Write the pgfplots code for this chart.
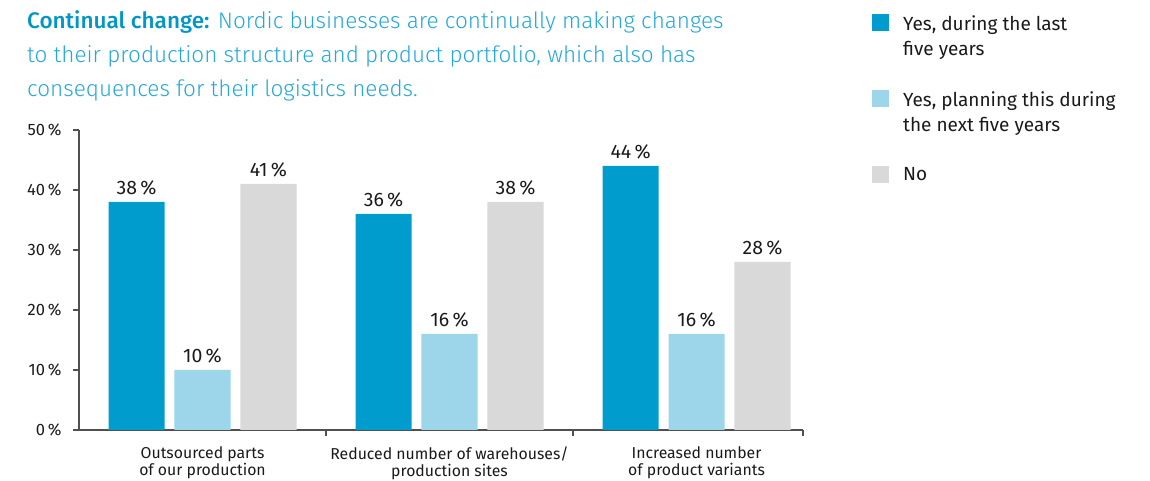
\documentclass[border=0pt]{standalone}
\usepackage{fontspec}
\setmainfont{Fira Sans}
\newfontfamily\lightfont{Fira Sans Light}
\newfontfamily\medfont{Fira Sans Medium}
\usepackage{pgfplots}
\pgfplotsset{compat=1.18}
\definecolor{darkblue}{RGB}{0,156,206}
\definecolor{lightblue}{RGB}{157,214,234}
\definecolor{lightgray}{RGB}{217,217,217}
\definecolor{titleblue}{RGB}{0,150,200}
\definecolor{titlelight}{RGB}{35,168,218}
\definecolor{txt}{RGB}{26,26,26}
\definecolor{axisgray}{RGB}{80,80,80}
% legend square raised to the first line of a two-line entry
\pgfplotsset{twoline/.style={legend image code/.code={\fill[##1] (0pt,5pt) rectangle (17pt,22pt);}}}

\begin{document}
\begin{tikzpicture}
\useasboundingbox (0,0) rectangle (1150pt,481pt);
\begin{axis}[
  at={(79pt,51pt)}, anchor=south west,
  scale only axis, width=724pt, height=300pt,
  xmin=-0.5, xmax=2.431, ymin=0, ymax=50,
  axis x line*=bottom, axis y line*=left,
  axis line style={axisgray, line width=1.3pt},
  every tick/.style={axisgray, line width=1.2pt},
  tick align=outside,
  major tick length=6pt, minor tick length=6pt,
  ytick={0,10,...,50},
  yticklabel={\pgfmathprintnumber{\tick}\,\%},
  /pgf/number format/assume math mode=true,
  xtick={0,1,2},
  xticklabels={{Outsourced parts\\of our production},{Reduced number of warehouses/\\production sites},{Increased number\\of product variants}},
  major x tick style={draw=none},
  minor xtick={0.5,1.5,2.431},
  x tick label style={align=center, font=\fontsize{15.8}{17.5}\selectfont, text=txt, yshift=-7pt},
  y tick label style={font=\fontsize{16.5}{18}\selectfont, text=txt, xshift=-8pt},
  nodes near coords={\pgfmathprintnumber{\pgfplotspointmeta}\,\%},
  every node near coord/.append style={font=\fontsize{19.5}{22}\selectfont, text=txt, inner sep=0pt, yshift=7pt},
  legend style={at={(1.0953,1.3867)}, anchor=north west, draw=none, fill=none,
    inner sep=0pt, row sep=33pt, column sep=14pt,
    nodes={inner sep=0pt, align=left, font=\fontsize{19}{25.5}\selectfont, text=txt}},
  legend cell align=left,
  legend image code/.code={\fill[#1] (0pt,-8.5pt) rectangle (17pt,8.5pt);},
]
\addplot[ybar, fill=darkblue, draw=none, bar width=0.227, bar shift=0, twoline]
  coordinates {(-0.267,38) (0.733,36) (1.733,44)};
\addplot[ybar, fill=lightblue, draw=none, bar width=0.227, bar shift=0, twoline]
  coordinates {(0,10) (1,16) (2,16)};
\addplot[ybar, fill=lightgray, draw=none, bar width=0.227, bar shift=0]
  coordinates {(0.267,41) (1.267,38) (2.267,28)};
\legend{{Yes, during the last\\five years},{Yes, planning this during\\the next five years},{No}}
\end{axis}
\node[anchor=base west, inner sep=0pt, align=left,
  font=\lightfont\fontsize{22.5}{34}\selectfont, text=titlelight] at (27pt,384pt)
  {{\medfont\color{titleblue}Continual change:} Nordic businesses are continually making changes\\
   to their production structure and product portfolio, which also has\\
   consequences for their logistics needs.};
\end{tikzpicture}
\end{document}
